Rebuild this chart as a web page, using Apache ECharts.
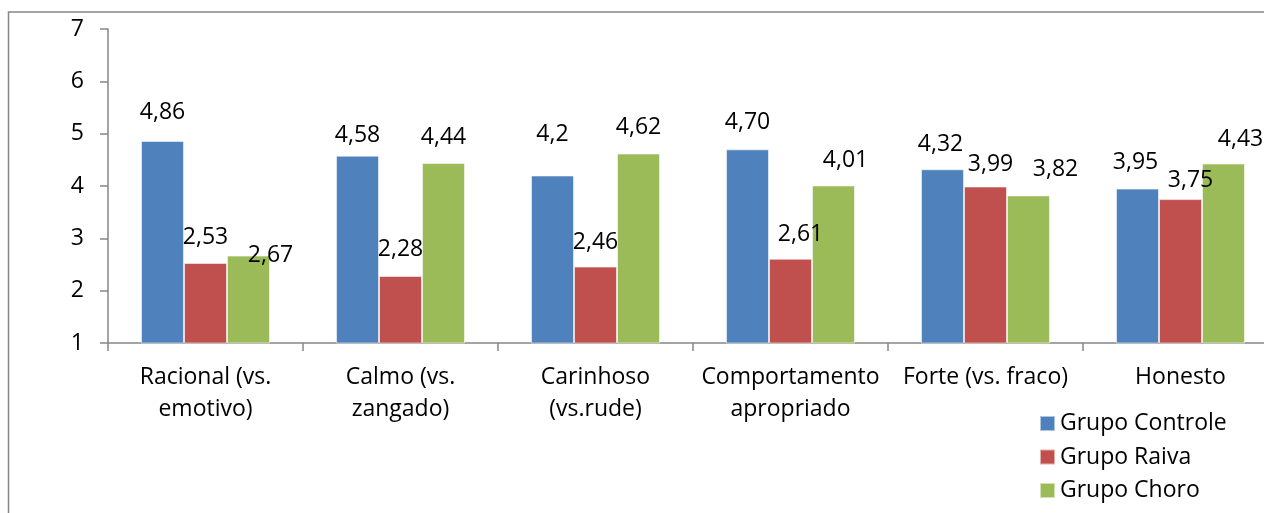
<!DOCTYPE html>
<html><head><meta charset="utf-8">
<script src="https://cdn.jsdelivr.net/npm/echarts@6/dist/echarts.min.js"></script>
<style>html,body{margin:0;padding:0;background:#fff}#c{width:1264px;height:513px}</style>
</head><body><div id="c"></div>
<script>
const categories = ['Racional (vs.\nemotivo)', 'Calmo (vs.\nzangado)', 'Carinhoso\n(vs.rude)', 'Comportamento\napropriado', 'Forte (vs. fraco)', 'Honesto'];
const seriesNames = ['Grupo Controle', 'Grupo Raiva', 'Grupo Choro'];
const controle = [4.86, 4.58, 4.2, 4.70, 4.32, 3.95];
const raiva = [2.53, 2.28, 2.46, 2.61, 3.99, 3.75];
const choro = [2.67, 4.44, 4.62, 4.01, 3.82, 4.43];
const controleLabels = ['4,86', '4,58', '4,2', '4,70', '4,32', '3,95'];
const raivaLabels = ['2,53', '2,28', '2,46', '2,61', '3,99', '3,75'];
const choroLabels = ['2,67', '4,44', '4,62', '4,01', '3,82', '4,43'];
const yTicks = [1, 2, 3, 4, 5, 6, 7];

// label nudges (dx, dy) relative to default "top" placement
const nudges = [
  [[0,-3],[0,5],[0,-16],[0,-1],[-2,1],[-2,-1]],
  [[0,0],[0,-1],[0,1],[10,1],[5,3],[10,7]],
  [[22,25],[0,0],[0,-1],[12,0],[27,0],[17,1]]
];
const colors = ['#4F81BD', '#C0504D', '#9BBB59'];
const FONT = '"Open Sans", "Noto Sans", sans-serif';

function mk(i, vals, labs) {
  return {
    name: seriesNames[i], type: 'bar', barWidth: 43, barGap: '0%',
    itemStyle: { color: colors[i], borderColor: 'rgba(255,255,255,0.55)', borderWidth: 1 },
    data: vals.map((v, k) => ({
      value: v,
      label: { offset: nudges[i][k] }
    })),
    label: {
      show: true, position: 'top', distance: 14, color: '#000', fontSize: 23, fontFamily: FONT,
      formatter: p => labs[p.dataIndex]
    },
    emphasis: { disabled: true }
  };
}

const chart = echarts.init(document.getElementById('c'));
chart.setOption({
  animation: false,
  textStyle: { fontFamily: FONT },
  graphic: [{ type: 'rect', shape: { x: 8.5, y: 12, width: 1400, height: 700 }, style: { fill: 'none', stroke: '#868686', lineWidth: 1.5 }, silent: true }],
  grid: { left: 108, top: 29, height: 314, width: 1170, containLabel: false, outerBoundsMode: 'none' },
  legend: {
    orient: 'vertical', left: 1039, top: 412, padding: 0, itemWidth: 15, itemHeight: 15, itemGap: 10.5, icon: 'rect',
    textStyle: { fontSize: 23, color: '#000', fontFamily: FONT, lineHeight: 23 },
    data: seriesNames
  },
  xAxis: {
    type: 'category', data: categories,
    axisLine: { lineStyle: { color: '#868686', width: 1.5 } },
    axisTick: { show: true, length: 8, lineStyle: { color: '#868686', width: 1.5 } },
    axisLabel: { color: '#000', fontSize: 23, fontFamily: FONT, lineHeight: 32, margin: 18, interval: 0 },
    splitLine: { show: false }
  },
  yAxis: {
    type: 'value', min: yTicks[0], max: yTicks[yTicks.length - 1], interval: 1,
    axisLine: { show: true, lineStyle: { color: '#868686', width: 1.5 } },
    axisTick: { show: true, length: 8, lineStyle: { color: '#868686', width: 1.5 } },
    axisLabel: { color: '#000', fontSize: 23, fontFamily: FONT, margin: 24 },
    splitLine: { show: false }
  },
  series: [mk(0, controle, controleLabels), mk(1, raiva, raivaLabels), mk(2, choro, choroLabels)]
});
</script></body></html>
